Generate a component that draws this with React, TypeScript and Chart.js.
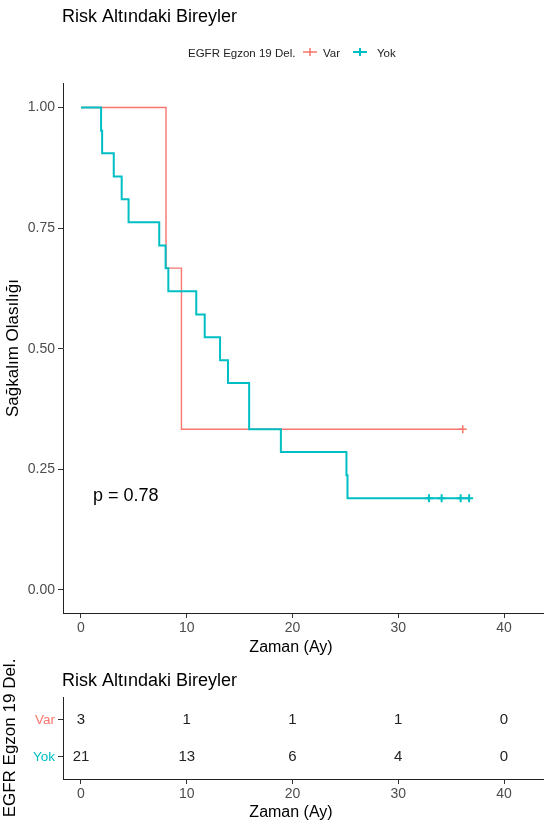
import React, { useEffect, useRef } from "react";
import { Chart, registerables } from "chart.js";

Chart.register(...registerables);

const RED = "#F8766D";
const TEAL = "#00BFC4";
const FONT = "'Liberation Sans', Arial, sans-serif";

// Kaplan-Meier step data
const yokTimes = [0, 1.9, 2.0, 3.1, 3.85, 4.5, 7.4, 8.0, 8.26, 10.9, 11.7, 13.15, 13.9, 15.9, 18.9, 25.1, 25.2, 36.7];
const yokSurv = [1, 0.952, 0.905, 0.857, 0.81, 0.762, 0.714, 0.667, 0.619, 0.571, 0.524, 0.476, 0.429, 0.333, 0.286, 0.238, 0.19, 0.19];
const yokCensorTimes = [32.9, 34.1, 35.9, 36.7];
const yokCensorSurv = [0.19, 0.19, 0.19, 0.19];
const varTimes = [0, 8.04, 9.5, 36.1];
const varSurv = [1, 0.667, 0.333, 0.333];
const varCensorTimes = [36.1];
const varCensorSurv = [0.333];

const xTicks = [0, 10, 20, 30, 40];
const yTicks = [0, 0.25, 0.5, 0.75, 1];

const riskTimes = [0, 10, 20, 30, 40];
const varRisk = [3, 1, 1, 1, 0];
const yokRisk = [21, 13, 6, 4, 0];
const groupLabels = ["Var", "Yok"];

const titleText = "Risk Altındaki Bireyler";
const legendTitle = "EGFR Egzon 19 Del.";
const pValueText = "p = 0.78";
const xTitle = "Zaman (Ay)";
const yTitle = "Sağkalım Olasılığı";

const toPts = (xs: number[], ys: number[]) => xs.map((x, i) => ({ x, y: ys[i] }));

const axisGrid = {
  display: true,
  drawOnChartArea: false,
  drawTicks: true,
  tickLength: 5,
  color: "#333",
  lineWidth: 1,
};
const axisBorder = { display: true, color: "#222", width: 1 };

function drawCrossKey(ctx: CanvasRenderingContext2D, x1: number, x2: number, y: number, color: string, lw: number) {
  ctx.save();
  ctx.strokeStyle = color;
  ctx.lineWidth = lw;
  ctx.beginPath();
  ctx.moveTo(x1, y);
  ctx.lineTo(x2, y);
  const cx = (x1 + x2) / 2;
  ctx.moveTo(cx, y - 4);
  ctx.lineTo(cx, y + 4);
  ctx.stroke();
  ctx.restore();
}

function drawXTitle(ctx: CanvasRenderingContext2D, x: number, y: number) {
  ctx.save();
  ctx.fillStyle = "#000";
  ctx.font = `16px ${FONT}`;
  ctx.textAlign = "center";
  ctx.textBaseline = "middle";
  ctx.fillText(xTitle, x, y);
  ctx.restore();
}

const fitX = (h: number) => (s: any) => {
  s.height = h;
  s.paddingLeft = 0;
  s.paddingRight = 0;
};
const fitY = (w: number) => (s: any) => {
  s.width = w;
  s.paddingTop = 0;
  s.paddingBottom = 0;
};

export default function App() {
  const mainRef = useRef<HTMLCanvasElement>(null);
  const tableRef = useRef<HTMLCanvasElement>(null);

  useEffect(() => {
    Chart.defaults.font.family = FONT;

    const mainDecor = {
      id: "mainDecor",
      afterDraw(chart: any) {
        const ctx = chart.ctx as CanvasRenderingContext2D;
        ctx.save();
        ctx.fillStyle = "#000";
        ctx.textBaseline = "alphabetic";
        ctx.textAlign = "left";
        ctx.font = `18px ${FONT}`;
        ctx.fillText(titleText, 62, 22);
        // legend
        ctx.font = `11.5px ${FONT}`;
        ctx.fillStyle = "#222";
        ctx.fillText(legendTitle, 188, 56.5);
        drawCrossKey(ctx, 303, 317, 52, RED, 1.5);
        ctx.fillText(groupLabels[0], 323, 56.5);
        drawCrossKey(ctx, 353, 367, 52, TEAL, 2);
        ctx.fillText(groupLabels[1], 377, 56.5);
        // p-value
        ctx.fillStyle = "#000";
        ctx.font = `18px ${FONT}`;
        ctx.fillText(pValueText, 93, 501);
        ctx.restore();
        drawXTitle(ctx, 291, 648);
      },
    };

    const mainChart = new Chart(mainRef.current!, {
      type: "scatter",
      data: {
        datasets: [
          {
            label: "Yok",
            data: toPts(yokTimes, yokSurv),
            showLine: true,
            stepped: true,
            borderColor: TEAL,
            borderWidth: 2,
            pointRadius: 0,
            order: 1,
          },
          {
            label: "Var",
            data: toPts(varTimes, varSurv),
            showLine: true,
            stepped: true,
            borderColor: RED,
            borderWidth: 1.4,
            pointRadius: 0,
            order: 2,
          },
          {
            label: "Yok censor",
            data: toPts(yokCensorTimes, yokCensorSurv),
            showLine: false,
            pointStyle: "cross",
            pointRadius: 4,
            borderColor: TEAL,
            backgroundColor: TEAL,
            borderWidth: 2,
            order: 0,
          },
          {
            label: "Var censor",
            data: toPts(varCensorTimes, varCensorSurv),
            showLine: false,
            pointStyle: "cross",
            pointRadius: 4,
            borderColor: RED,
            backgroundColor: RED,
            borderWidth: 1.5,
            order: 0,
          },
        ] as any,
      },
      options: {
        animation: false,
        responsive: false,
        events: [],
        layout: { padding: { top: 83, left: 0, right: 0, bottom: 0 } },
        plugins: {
          legend: { display: false },
          tooltip: { enabled: false },
          title: { display: false },
        },
        scales: {
          x: {
            type: "linear",
            min: -1.7,
            max: 43.78,
            afterBuildTicks: (s: any) => {
              s.ticks = xTicks.map((v) => ({ value: v }));
            },
            afterFit: fitX(52),
            grid: axisGrid as any,
            border: axisBorder as any,
            ticks: {
              color: "#4d4d4d",
              font: { family: FONT, size: 14 },
              padding: 2,
              maxRotation: 0,
              autoSkip: false,
            },
            title: { display: false },
          },
          y: {
            type: "linear",
            min: -0.0477,
            max: 1.0508,
            afterBuildTicks: (s: any) => {
              s.ticks = yTicks.map((v) => ({ value: v }));
            },
            afterFit: fitY(63),
            grid: axisGrid as any,
            border: axisBorder as any,
            ticks: {
              color: "#4d4d4d",
              font: { family: FONT, size: 14 },
              padding: 3,
              callback: (v: any) => Number(v).toFixed(2),
            },
            title: {
              display: true,
              text: yTitle,
              color: "#000",
              font: { family: FONT, size: 17 },
              padding: { top: 3, bottom: 0 },
            },
          },
        },
      } as any,
      plugins: [mainDecor],
    });

    const tableDecor = {
      id: "tableDecor",
      afterDatasetsDraw(chart: any) {
        const ctx = chart.ctx as CanvasRenderingContext2D;
        ctx.save();
        ctx.fillStyle = "#000";
        ctx.textAlign = "left";
        ctx.textBaseline = "alphabetic";
        ctx.font = `18px ${FONT}`;
        ctx.fillText(titleText, 62, 46);
        ctx.font = `15px ${FONT}`;
        ctx.fillStyle = "#222";
        ctx.textAlign = "center";
        ctx.textBaseline = "middle";
        chart.data.datasets.forEach((ds: any, di: number) => {
          const meta = chart.getDatasetMeta(di);
          meta.data.forEach((pt: any, i: number) => {
            ctx.fillText(String(ds.data[i].n), pt.x, pt.y);
          });
        });
        ctx.restore();
        drawXTitle(ctx, 291, 173);
      },
    };

    const tableChart = new Chart(tableRef.current!, {
      type: "scatter",
      data: {
        datasets: [
          {
            label: "Var",
            data: riskTimes.map((t, i) => ({ x: t, y: 2, n: varRisk[i] })),
            pointRadius: 0,
          },
          {
            label: "Yok",
            data: riskTimes.map((t, i) => ({ x: t, y: 1, n: yokRisk[i] })),
            pointRadius: 0,
          },
        ] as any,
      },
      options: {
        animation: false,
        responsive: false,
        events: [],
        layout: { padding: { top: 57, left: 0, right: 0, bottom: 0 } },
        plugins: {
          legend: { display: false },
          tooltip: { enabled: false },
          title: { display: false },
        },
        scales: {
          x: {
            type: "linear",
            min: -1.7,
            max: 43.78,
            afterBuildTicks: (s: any) => {
              s.ticks = xTicks.map((v) => ({ value: v }));
            },
            afterFit: fitX(44),
            grid: axisGrid as any,
            border: axisBorder as any,
            ticks: {
              color: "#4d4d4d",
              font: { family: FONT, size: 14 },
              padding: 2,
              maxRotation: 0,
              autoSkip: false,
            },
            title: { display: false },
          },
          y: {
            type: "linear",
            min: 0.405,
            max: 2.62,
            afterBuildTicks: (s: any) => {
              s.ticks = [{ value: 2 }, { value: 1 }];
            },
            afterFit: fitY(63),
            grid: axisGrid as any,
            border: axisBorder as any,
            ticks: {
              color: (c: any) => (c.tick && c.tick.value === 2 ? RED : TEAL),
              font: { family: FONT, size: 13.5 },
              padding: 3,
              callback: (v: any) => (v === 2 ? groupLabels[0] : groupLabels[1]),
            },
            title: {
              display: true,
              text: legendTitle,
              color: "#000",
              font: { family: FONT, size: 17 },
              padding: { top: 0, bottom: 0 },
            },
          },
        },
      } as any,
      plugins: [tableDecor],
    });

    return () => {
      mainChart.destroy();
      tableChart.destroy();
    };
  }, []);

  return (
    <div
      style={{
        position: "fixed",
        left: 0,
        top: 0,
        width: 544,
        height: 823,
        overflow: "hidden",
        background: "#fff",
      }}
    >
      <canvas
        ref={mainRef}
        width={550}
        height={665}
        style={{ position: "absolute", left: 0, top: 0, width: 550, height: 665 }}
      />
      <canvas
        ref={tableRef}
        width={544}
        height={183}
        style={{ position: "absolute", left: 0, top: 640, width: 544, height: 183 }}
      />
    </div>
  );
}
